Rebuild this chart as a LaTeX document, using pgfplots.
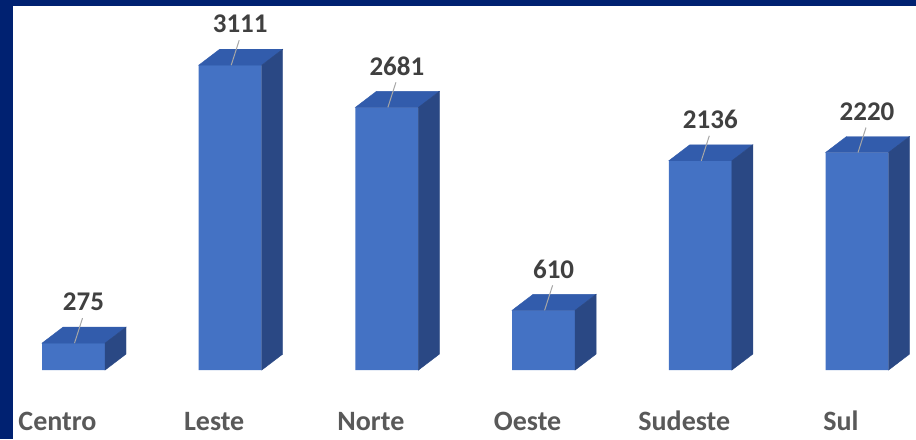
\documentclass[border=0pt]{standalone}
\usepackage{pgfplots}
\pgfplotsset{compat=1.18}
\usepackage{fontspec}
\setmainfont{Carlito}
\definecolor{navyc}{RGB}{0,33,113}
\definecolor{frontc}{RGB}{68,114,196}
\definecolor{topc}{RGB}{50,92,172}
\definecolor{sidec}{RGB}{42,72,132}
\definecolor{labc}{RGB}{64,64,64}
\definecolor{catc}{RGB}{89,89,89}
\begin{document}
\begin{tikzpicture}
\fill[navyc] (0pt,0pt) rectangle (916pt,439pt);
\fill[white] (13pt,0pt) rectangle (916pt,433pt);
\begin{axis}[
  at={(0pt,0pt)}, anchor=south west,
  x=156.7pt, y=0.098pt,
  xmin=-0.46905, xmax=5.37652,
  ymin=-704.08, ymax=3775.51,
  axis line style={draw=none},
  major tick length=0pt,
  ytick=\empty,
  xtick={0,1,2,3,4,5},
  xticklabels={Centro,Leste,Norte,Oeste,Sudeste,Sul},
  xticklabel style={anchor=base, xshift=-16pt, yshift=9pt, font=\bfseries\fontsize{28}{28}\selectfont, text=catc},
  clip=false,
  /pgf/number format/1000 sep={},
  /pgf/number format/assume math mode=true,
]
% side and top faces, leader lines
\addplot[scatter, only marks, mark=none,
  visualization depends on={y \as \rawy},
  scatter/@pre marker code/.code={%
    \pgfkeys{/pgf/fpu=true,/pgf/fpu/output format=fixed}%
    \pgfmathsetmacro\h{\rawy*0.098}%
    \pgfkeys{/pgf/fpu=false}%
    \fill[topc] (-31.5pt,0pt) -- (31.5pt,0pt) -- (52.5pt,16pt) -- (-10.5pt,16pt) -- cycle;
    \fill[sidec] (31.5pt,0pt) -- (52.5pt,16pt) -- (52.5pt,16pt-\h pt) -- (31.5pt,-\h pt) -- cycle;
    \draw[gray!70, line width=1pt] (1pt,0pt) -- (9pt,25pt);
  },
  scatter/@post marker code/.code={},
] coordinates {(0,275) (1,3111) (2,2681) (3,610) (4,2136) (5,2220)};
% front faces with labels
\addplot[ybar, bar width=63pt, fill=frontc, draw=none,
  nodes near coords={\pgfmathprintnumber{\pgfplotspointmeta}},
  point meta=y,
  every node near coord/.append style={anchor=center, xshift=10pt, yshift=41pt, font=\bfseries\fontsize{27}{27}\selectfont, text=labc},
] coordinates {(0,275) (1,3111) (2,2681) (3,610) (4,2136) (5,2220)};
\end{axis}
\end{tikzpicture}
\end{document}
